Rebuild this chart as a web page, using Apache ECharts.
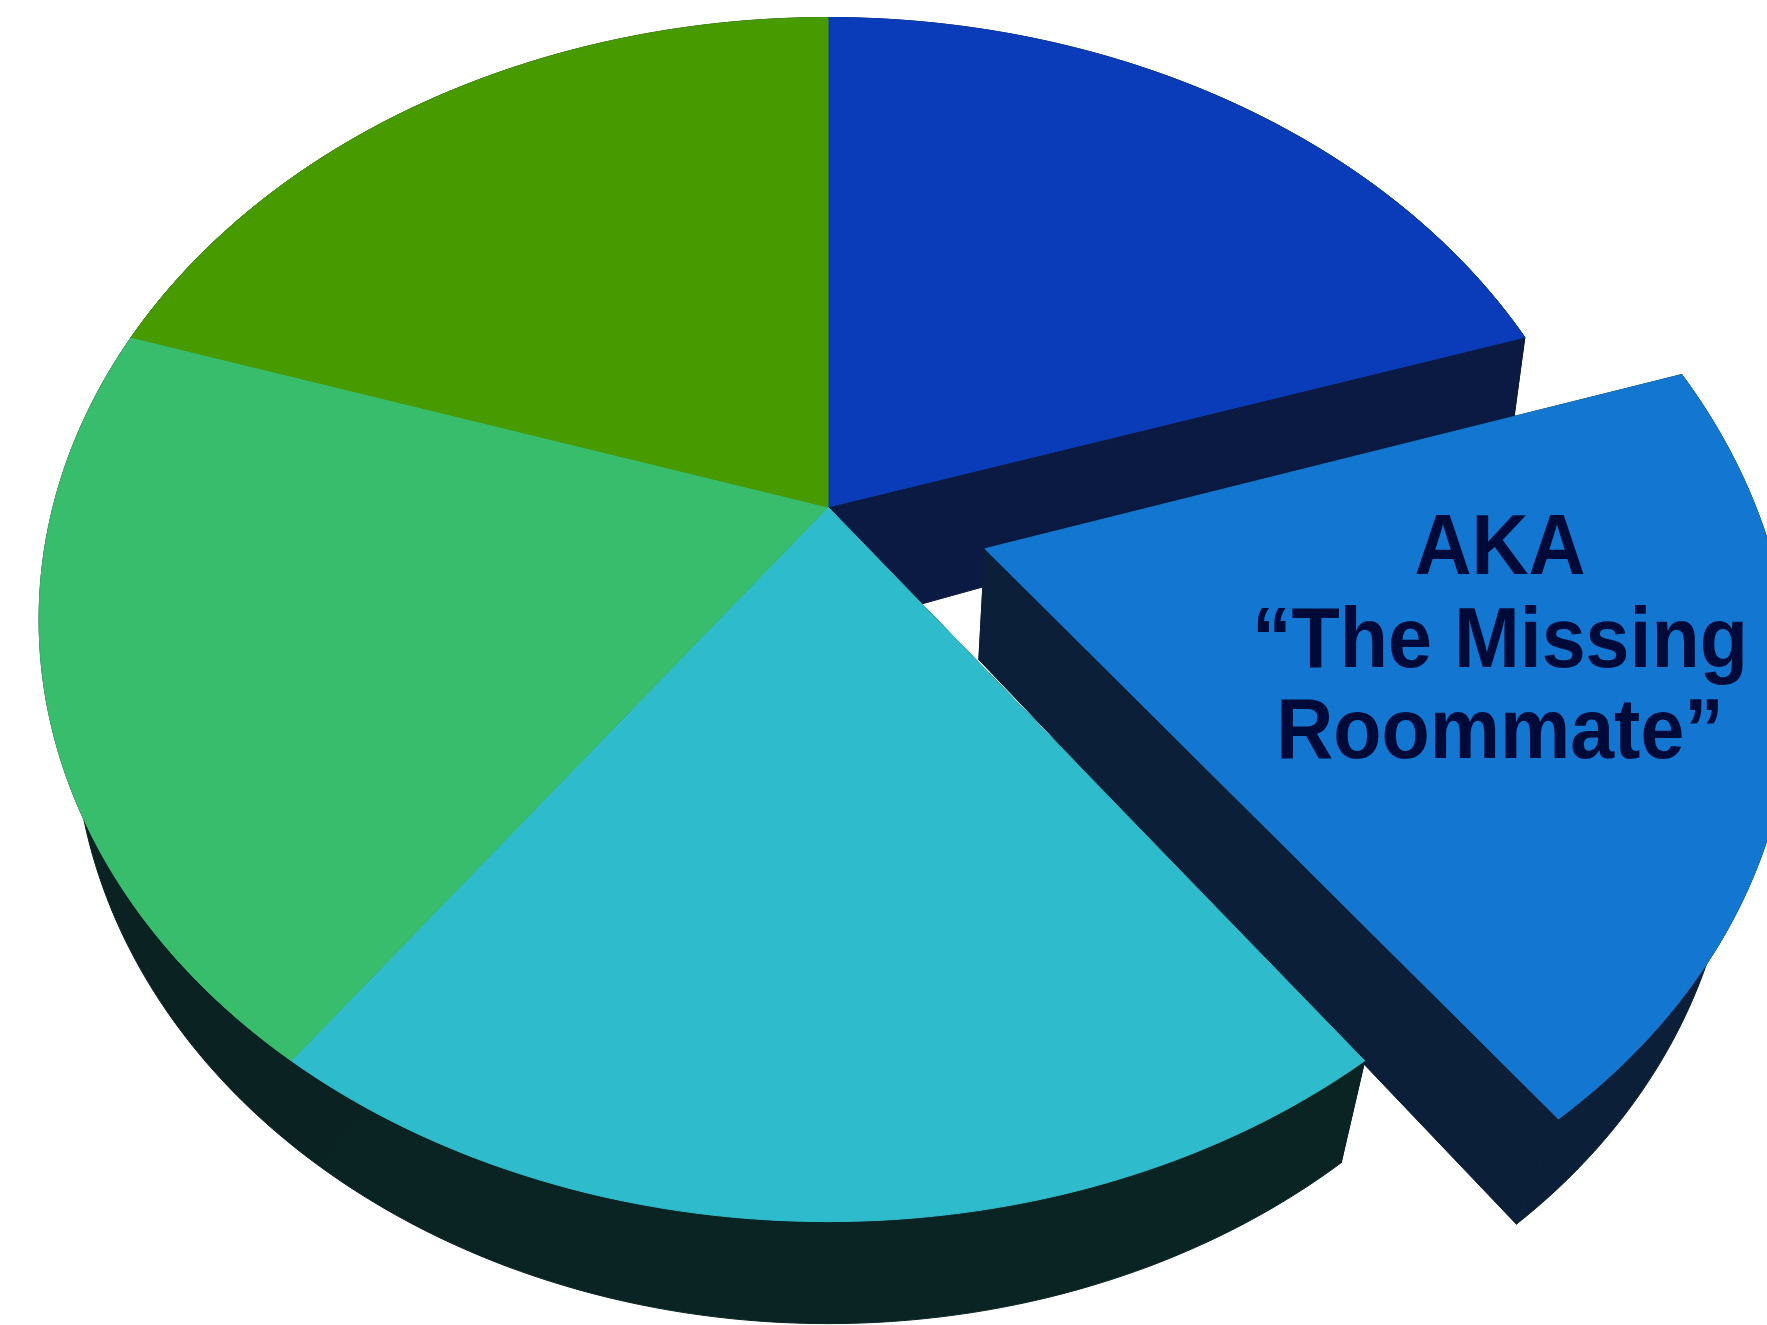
<!DOCTYPE html>
<html>
<head>
<meta charset="utf-8">
<title>AKA "The Missing Roommate"</title>
<style>
  html, body { margin: 0; padding: 0; background: #fff; }
  #chart { width: 1767px; height: 1325px; }
</style>
<script src="https://cdn.jsdelivr.net/npm/echarts@6/dist/echarts.min.js"></script>
</head>
<body>
<div id="chart"></div>
<script>
// Five roommates, clockwise from twelve o'clock; each one gets an equal share.
const sliceNames = ['Roommate 1', 'The Missing Roommate', 'Roommate 3', 'Roommate 4', 'Roommate 5'];
const sliceShares = [20, 20, 20, 20, 20];
const sliceLabel = ['AKA', '\u201CThe Missing', 'Roommate\u201D'];

const faceColors = ['#0a3bb8', '#1376d0', '#2ebbcb', '#38bd6c', '#479b00'];
const sideColors = ['#0a1a42', '#0b2038', '#0a2424', '#0a2222', '#0a2222'];
const explodeBy = [0, 0.21, 0, 0, 0];
const explodeDip = 0.006;

// Painted back to front, so the pulled-out slice ends up on top of its neighbours.
const drawOrder = [0, 2, 3, 4, 1];

// Perspective tilt of the disc: a circle seen from above the front edge.
const disc = { cx: 828, cy: 507, a: 775, b: 581, k: 0.187 };

// Where the underside of each slice lands relative to its top face.
const mainSide = { sx: 0.956, sy: 1, dx: 0, dy: 102 };
const undersides = [
  { sx: 0.98, sy: 1.118, dx: 0, dy: 123 },
  { sx: 0.937, sy: 0.99, dx: -6, dy: 111 },
  mainSide, mainSide, mainSide
];

// Label block: tops of the stretched lines and their shared centre.
const labelTops = [508, 601, 692];
const labelCenterX = 1500;
const labelStretch = 1.08;

const total = sliceShares.reduce((s, v) => s + v, 0);
const starts = [];
sliceShares.reduce((acc, v, i) => { starts[i] = acc; return acc + v; }, 0);

// Project a point of the unit disc (u right, v away from the viewer) to axis units.
function project(u, v) {
  const w = 1 + disc.k * v;
  return [disc.cx + disc.a * u / w, disc.cy - disc.b * v / w];
}

// Top-face outline of a slice: apex first, then the rim sampled clockwise.
function sliceOutline(i) {
  const from = starts[i] / total * 2 * Math.PI;
  const to = (starts[i] + sliceShares[i]) / total * 2 * Math.PI;
  const mid = (from + to) / 2;
  const ou = explodeBy[i] * Math.sin(mid);
  const ov = explodeBy[i] * Math.cos(mid) - (explodeBy[i] > 0 ? explodeDip : 0);
  const rim = [];
  const steps = 72;
  for (let s = 0; s <= steps; s++) {
    const t = from + (to - from) * s / steps;
    rim.push(project(ou + Math.sin(t), ov + Math.cos(t)));
  }
  return { apex: project(ou, ov), rim };
}

function underside(pt, apex, m) {
  return [
    apex[0] + m.dx + (pt[0] - apex[0]) * m.sx,
    apex[1] + m.dy + (pt[1] - apex[1]) * m.sy
  ];
}

function poly(api, points, fill) {
  return {
    type: 'polygon',
    shape: { points: points.map(p => api.coord(p)) },
    style: { fill: fill, stroke: fill, lineWidth: 1 }
  };
}

function renderSide(params, api) {
  const i = api.value(0);
  const { apex, rim } = sliceOutline(i);
  const m = undersides[i];
  const lowRim = rim.map(p => underside(p, apex, m));
  const lowApex = underside(apex, apex, m);
  const first = rim[0], last = rim[rim.length - 1];
  const fill = sideColors[i];
  return {
    type: 'group',
    children: [
      poly(api, rim.concat(lowRim.slice().reverse()), fill),
      poly(api, [apex, first, lowRim[0], lowApex], fill),
      poly(api, [apex, last, lowRim[lowRim.length - 1], lowApex], fill)
    ]
  };
}

function renderFace(params, api) {
  const i = api.value(0);
  const { apex, rim } = sliceOutline(i);
  const children = [poly(api, [apex].concat(rim), faceColors[i])];
  if (explodeBy[i] > 0) {
    sliceLabel.forEach((line, n) => {
      const p = api.coord([labelCenterX, labelTops[n]]);
      children.push({
        type: 'text',
        x: p[0],
        y: p[1],
        scaleY: labelStretch,
        style: {
          text: line,
          fill: '#000a38',
          font: 'bold 79px "Liberation Sans", Arial, sans-serif',
          textAlign: 'center',
          textVerticalAlign: 'top'
        }
      });
    });
  }
  return { type: 'group', children };
}

const rows = drawOrder.map(i => ({ name: sliceNames[i], value: [i, sliceShares[i]] }));

const chart = echarts.init(document.getElementById('chart'), null, { renderer: 'canvas' });
chart.setOption({
  animation: false,
  backgroundColor: '#ffffff',
  grid: { left: 0, right: 0, top: 0, bottom: 0 },
  xAxis: { type: 'value', min: 0, max: 1767, show: false },
  yAxis: { type: 'value', min: 0, max: 1325, inverse: true, show: false },
  series: [
    { type: 'custom', coordinateSystem: 'cartesian2d', clip: true, silent: true, z: 1,
      renderItem: renderSide, data: rows, encode: { x: 0, y: 1 } },
    { type: 'custom', coordinateSystem: 'cartesian2d', clip: true, silent: true, z: 2,
      renderItem: renderFace, data: rows, encode: { x: 0, y: 1 } }
  ]
});
</script>
</body>
</html>
